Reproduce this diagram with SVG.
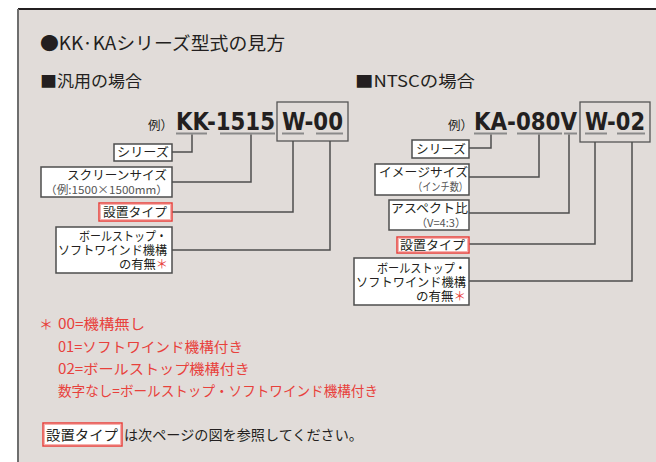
<svg xmlns="http://www.w3.org/2000/svg" width="656" height="462" viewBox="0 0 656 462">
<style>
.jp{font-family:"Noto Sans CJK JP","Noto Sans",sans-serif;fill:#231f20}
.h1{font-size:18px}
.h2{font-size:16px}
.lb{font-size:12.5px}
.sm{font-size:11px;fill:#555}
.red{fill:#e8413c}
.nt{font-size:14px}
.code{font-family:"DejaVu Sans Condensed","Liberation Sans",sans-serif;font-weight:bold;font-size:25px;fill:#231f20}
.box{fill:#fff;stroke:#4d4d4d;stroke-width:1.5}
.rbox{fill:#fff;stroke:#e8413c;stroke-width:1.5}
.rin{fill:none;stroke:#f5b3b0;stroke-width:1}
.cbox{fill:none;stroke:#555;stroke-width:1.3}
.ul{stroke:#8a8a8a;stroke-width:2}
.con{fill:none;stroke:#4d4d4d;stroke-width:1.5}
</style>
<rect x="0" y="0" width="656" height="462" fill="#fff"/>
<rect x="18" y="9" width="640" height="460" fill="#e1dcd9"/>
<line x1="18" y1="9" x2="656" y2="9" stroke="#231f20" stroke-width="2"/>
<line x1="18" y1="9" x2="18" y2="462" stroke="#6e6e6e" stroke-width="2"/>

<g id="title">
<text class="jp h1" x="40" y="50" textLength="245" lengthAdjust="spacingAndGlyphs">●KK·KAシリーズ型式の見方</text>
</g>
<g id="heading-general">
<text class="jp h2" x="40" y="87" textLength="102" lengthAdjust="spacingAndGlyphs">■汎用の場合</text>
</g>
<g id="heading-ntsc">
<text class="jp h2" x="355" y="87" textLength="120" lengthAdjust="spacingAndGlyphs">■NTSCの場合</text>
</g>

<g id="code-general">
<text class="jp lb" x="148" y="130">例）</text>
<rect class="cbox" x="277" y="102" width="71" height="39"/>
<text class="code" x="176" y="130" textLength="99" lengthAdjust="spacingAndGlyphs">KK-1515</text>
<text class="code" x="282" y="130" textLength="61" lengthAdjust="spacingAndGlyphs">W-00</text>
<line class="ul" x1="176" y1="133.5" x2="207" y2="133.5"/>
<line class="ul" x1="220" y1="133.5" x2="275" y2="133.5"/>
<line class="ul" x1="282" y1="133.5" x2="304" y2="133.5"/>
<line class="ul" x1="316" y1="133.5" x2="343" y2="133.5"/>
</g>

<g id="code-ntsc">
<text class="jp lb" x="448" y="130">例）</text>
<rect class="cbox" x="580" y="102" width="70" height="40"/>
<text class="code" x="474" y="130" textLength="103" lengthAdjust="spacingAndGlyphs">KA-080V</text>
<text class="code" x="585" y="130" textLength="60" lengthAdjust="spacingAndGlyphs">W-02</text>
<line class="ul" x1="474" y1="133.5" x2="507" y2="133.5"/>
<line class="ul" x1="517" y1="133.5" x2="562" y2="133.5"/>
<line class="ul" x1="564" y1="133.5" x2="577" y2="133.5"/>
<line class="ul" x1="585" y1="133.5" x2="607" y2="133.5"/>
<line class="ul" x1="617" y1="133.5" x2="645" y2="133.5"/>
</g>

<g id="connectors">
<path class="con" d="M192 134.5V152H172"/>
<path class="con" d="M251 134.5V182H172"/>
<path class="con" d="M293 141V212H172"/>
<path class="con" d="M330 141V250H172"/>
<path class="con" d="M491 134.5V148H469"/>
<path class="con" d="M539 134.5V177H469"/>
<path class="con" d="M569 134.5V213H469"/>
<path class="con" d="M595 142V244H469"/>
<path class="con" d="M632 142V281H469"/>
</g>

<g id="g-series">
<rect class="box" x="114" y="144" width="58" height="17"/>
<text class="jp lb" x="117" y="157" textLength="52" lengthAdjust="spacingAndGlyphs">シリーズ</text>
</g>
<g id="g-size">
<rect class="box" x="41" y="167" width="131" height="30"/>
<text class="jp lb" x="67" y="180" textLength="100" lengthAdjust="spacingAndGlyphs">スクリーンサイズ</text>
<text class="jp sm" x="45" y="194" textLength="123" lengthAdjust="spacingAndGlyphs">（例:1500×1500mm）</text>
</g>
<g id="g-type">
<rect class="rbox" x="99" y="203" width="73" height="18"/>
<rect class="rin" x="100.5" y="204.5" width="70" height="15"/>
<text class="jp lb" x="103" y="217" textLength="64" lengthAdjust="spacingAndGlyphs">設置タイプ</text>
</g>
<g id="g-stop">
<rect class="box" x="56" y="227" width="116" height="46"/>
<text class="jp lb" x="79" y="241" textLength="88" lengthAdjust="spacingAndGlyphs">ボールストップ・</text>
<text class="jp lb" x="58" y="255" textLength="109" lengthAdjust="spacingAndGlyphs">ソフトワインド機構</text>
<text class="jp lb" x="119" y="269" textLength="49" lengthAdjust="spacingAndGlyphs">の有無<tspan class="red">＊</tspan></text>
</g>

<g id="n-series">
<rect class="box" x="412" y="140" width="57" height="18"/>
<text class="jp lb" x="416" y="154" textLength="50" lengthAdjust="spacingAndGlyphs">シリーズ</text>
</g>
<g id="n-image">
<rect class="box" x="375" y="164" width="94" height="31"/>
<text class="jp lb" x="379" y="177" textLength="89" lengthAdjust="spacingAndGlyphs">イメージサイズ</text>
<text class="jp sm" x="413" y="191" textLength="55" lengthAdjust="spacingAndGlyphs">（インチ数）</text>
</g>
<g id="n-aspect">
<rect class="box" x="389" y="200" width="80" height="30"/>
<text class="jp lb" x="391" y="213" textLength="77" lengthAdjust="spacingAndGlyphs">アスペクト比</text>
<text class="jp sm" x="416" y="227" textLength="50" lengthAdjust="spacingAndGlyphs">（V=4:3）</text>
</g>
<g id="n-type">
<rect class="rbox" x="397" y="237" width="72" height="16"/>
<rect class="rin" x="398.5" y="238.5" width="69" height="13"/>
<text class="jp lb" x="400" y="250" textLength="65" lengthAdjust="spacingAndGlyphs">設置タイプ</text>
</g>
<g id="n-stop">
<rect class="box" x="354" y="258" width="115" height="47"/>
<text class="jp lb" x="377" y="273" textLength="89" lengthAdjust="spacingAndGlyphs">ボールストップ・</text>
<text class="jp lb" x="356" y="287" textLength="110" lengthAdjust="spacingAndGlyphs">ソフトワインド機構</text>
<text class="jp lb" x="416" y="301" textLength="50" lengthAdjust="spacingAndGlyphs">の有無<tspan class="red">＊</tspan></text>
</g>

<g id="notes">
<text class="jp nt red" x="39" y="329">＊</text>
<text class="jp nt red" x="58" y="329" textLength="87" lengthAdjust="spacingAndGlyphs">00=機構無し</text>
<text class="jp nt red" x="58" y="352" textLength="185" lengthAdjust="spacingAndGlyphs">01=ソフトワインド機構付き</text>
<text class="jp nt red" x="58" y="374" textLength="192" lengthAdjust="spacingAndGlyphs">02=ボールストップ機構付き</text>
<text class="jp nt red" x="58" y="396" textLength="320" lengthAdjust="spacingAndGlyphs">数字なし=ボールストップ・ソフトワインド機構付き</text>
</g>
<g id="footer">
<rect class="rbox" x="43" y="423" width="79" height="23"/>
<rect class="rin" x="44.5" y="424.5" width="76" height="20"/>
<text class="jp nt" x="46" y="440" textLength="72" lengthAdjust="spacingAndGlyphs">設置タイプ</text>
<text class="jp nt" x="124" y="440" textLength="239" lengthAdjust="spacingAndGlyphs">は次ページの図を参照してください。</text>
</g>
</svg>
